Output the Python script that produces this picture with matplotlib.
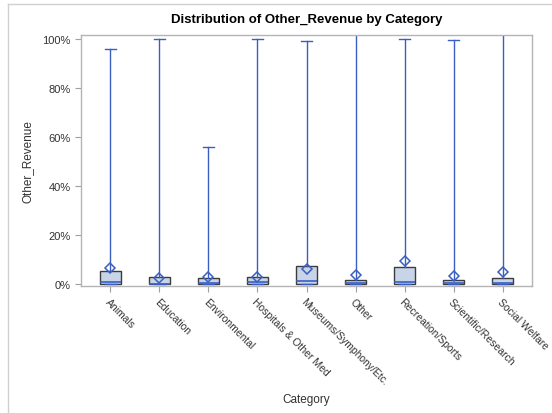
import matplotlib
matplotlib.use("Agg")
import matplotlib.pyplot as plt
from matplotlib.ticker import PercentFormatter
from matplotlib.lines import Line2D

plt.rcParams['font.family'] = ['Liberation Sans', 'DejaVu Sans']

categories = ["Animals", "Education", "Environmental", "Hospitals & Other Med",
              "Museums/Symphony/Etc.", "Other", "Recreation/Sports",
              "Scientific/Research", "Social Welfare"]
q1 = [0.0, 0.0, 0.0, 0.0, 0.0, 0.0, 0.0, 0.0, 0.0]
medians = [0.010, 0.002, 0.005, 0.008, 0.011, 0.003, 0.010, 0.003, 0.005]
q3 = [0.053, 0.028, 0.024, 0.027, 0.075, 0.016, 0.068, 0.016, 0.024]
means = [0.065, 0.025, 0.030, 0.028, 0.061, 0.037, 0.093, 0.034, 0.048]
whisker_lo = [0.0, 0.0, 0.0, 0.0, 0.0, 0.0, 0.0, 0.0, 0.0]
whisker_hi = [0.96, 1.0, 0.56, 1.0, 0.99, 1.10, 1.0, 0.997, 1.10]

blue = "#3a5fc0"
fig = plt.figure(figsize=(5.52, 4.14), dpi=100)
ax = fig.add_axes([81/552, 1-287/414, (532-81)/552, (287-36)/414])

stats = []
for i, c in enumerate(categories):
    stats.append(dict(label=c, q1=q1[i], med=medians[i], q3=q3[i],
                      whislo=whisker_lo[i], whishi=whisker_hi[i], mean=means[i],
                      fliers=[]))

ax.bxp(stats, positions=range(len(categories)), widths=0.43, patch_artist=True,
       showmeans=True, showfliers=False,
       boxprops=dict(facecolor="#c8d4e7", edgecolor="#3c3c3c", linewidth=1.0),
       whiskerprops=dict(color=blue, linewidth=1.0),
       capprops=dict(color=blue, linewidth=1.0),
       medianprops=dict(color=blue, linewidth=1.2),
       meanprops=dict(marker='D', markerfacecolor='none', markeredgecolor=blue,
                      markersize=5, markeredgewidth=1.1))

ax.set_xlim(-0.6, len(categories) - 0.4)
ax.set_ylim(-0.008, 1.016)
ax.set_yticks([0, 0.2, 0.4, 0.6, 0.8, 1.0])
ax.yaxis.set_major_formatter(PercentFormatter(1.0, decimals=0))
ax.set_xticks(range(len(categories)))
ax.set_xticklabels(categories, rotation=-45, ha='left', va='top',
                   rotation_mode='anchor', fontsize=7.5, color="#333333")
ax.tick_params(axis='y', labelsize=8, labelcolor="#333333", color="#a0a0a0", length=4)
ax.tick_params(axis='x', color="#a0a0a0", length=4)
for s in ax.spines.values():
    s.set_color("#b4b4b4")
    s.set_linewidth(1.0)

ax.set_ylabel("Other_Revenue", fontsize=8.5, color="#333333", labelpad=6)
fig.text(306.5/552, 1-400/414, "Category", ha='center', va='center',
         fontsize=8.5, color="#333333")
fig.text(306.5/552, 1-20/414, "Distribution of Other_Revenue by Category",
         ha='center', va='center', fontsize=9.5, fontweight='bold')

fig.add_artist(Line2D([8/552, 8/552], [0, 1-5/414], transform=fig.transFigure,
                      color="#d0d0d0", linewidth=1))
fig.add_artist(Line2D([8/552, 1], [1-5/414, 1-5/414], transform=fig.transFigure,
                      color="#d0d0d0", linewidth=1))

fig.savefig("out.png", dpi=100)
